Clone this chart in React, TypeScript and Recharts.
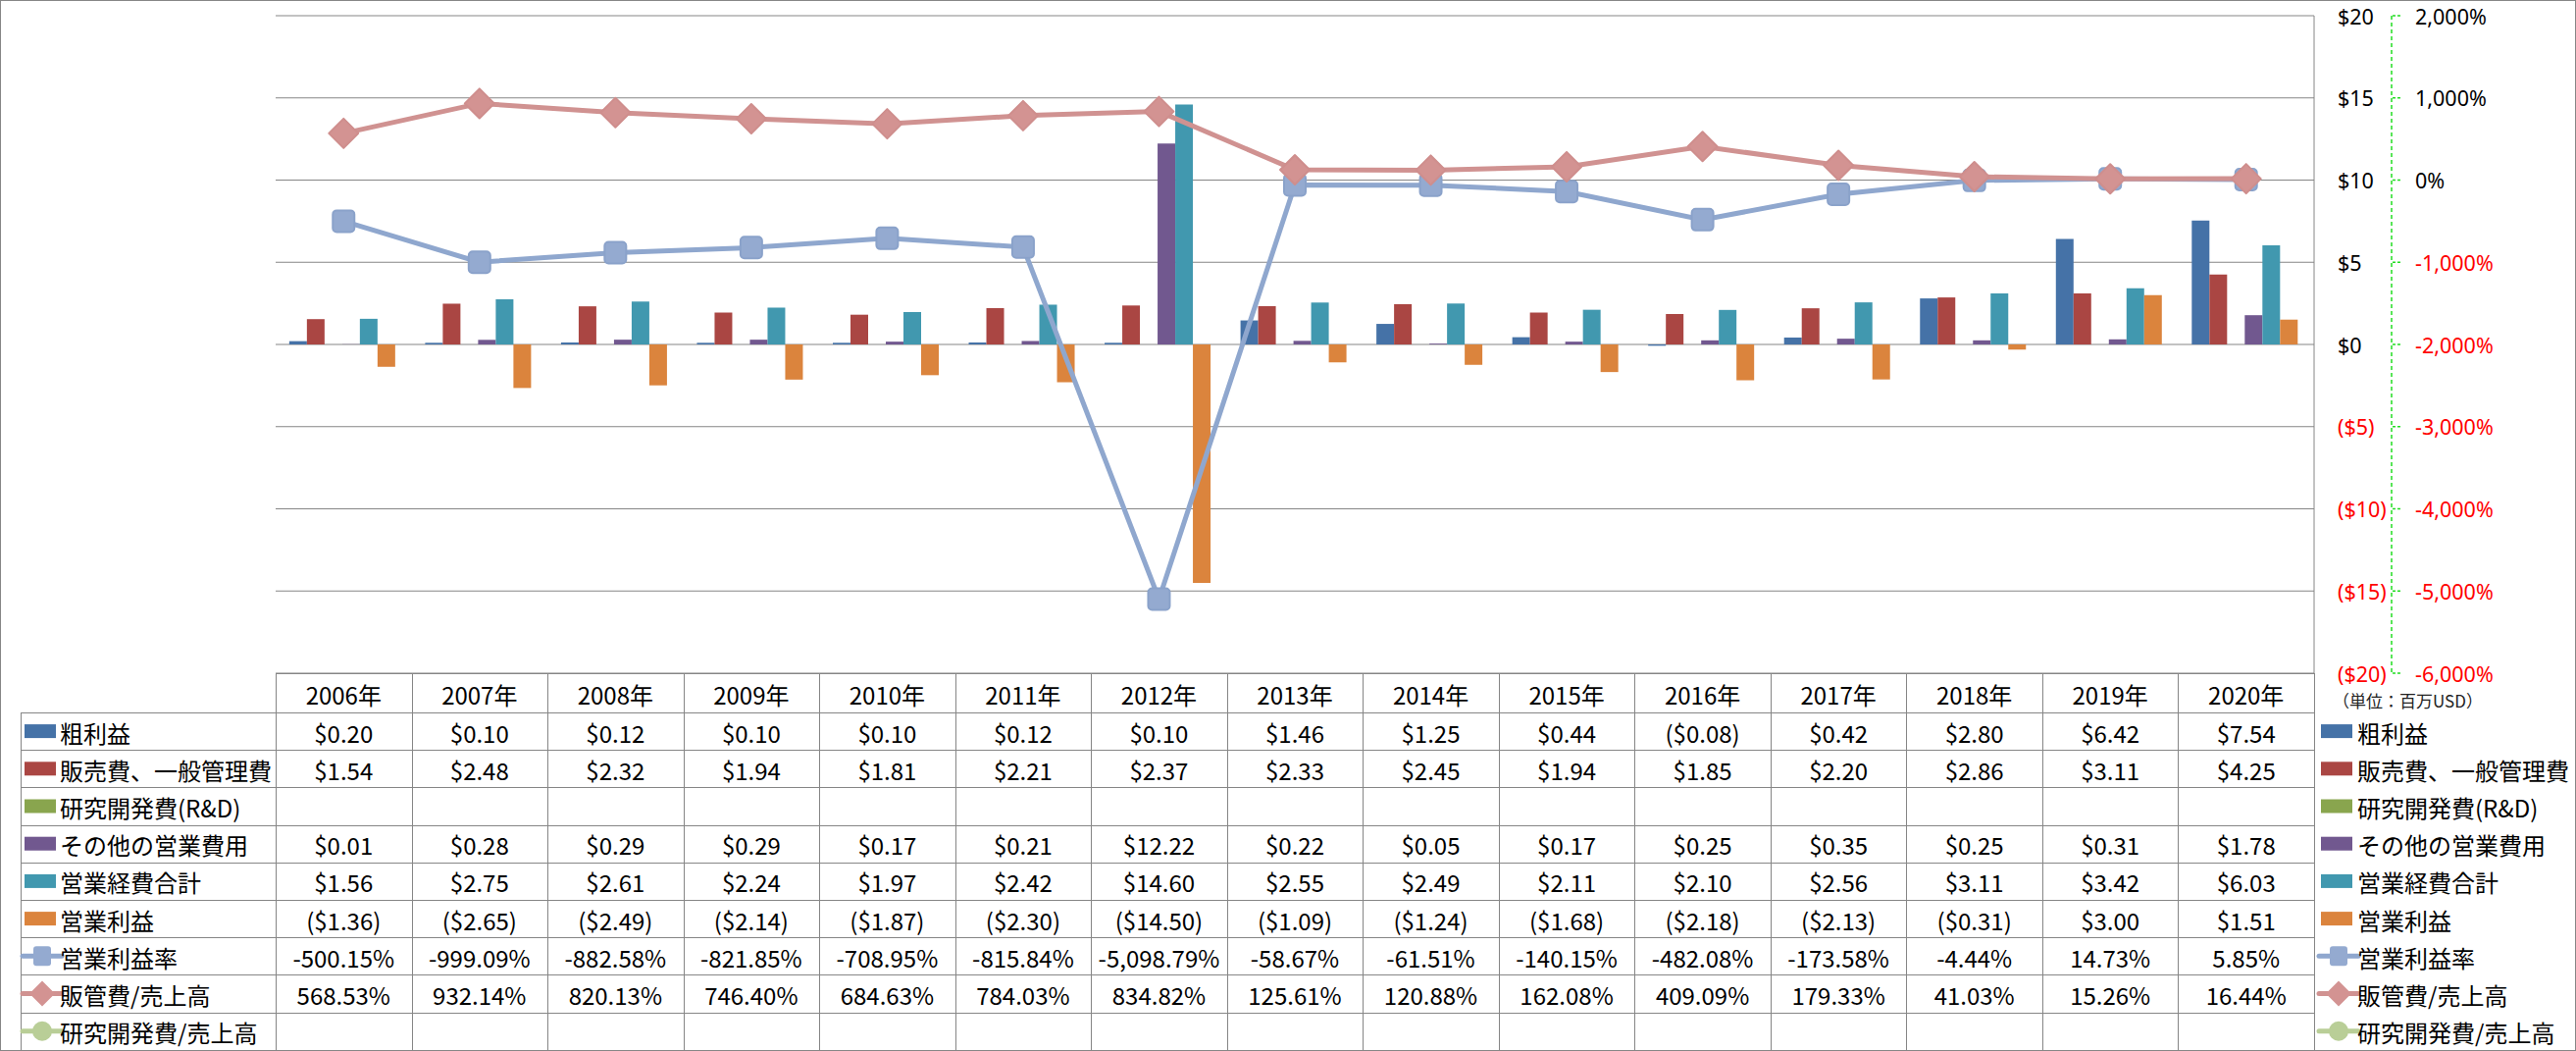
import React from 'react';
import { ComposedChart, Bar, Line, XAxis, YAxis, CartesianGrid } from 'recharts';

// ---------- data ----------
const years = ['2006年', '2007年', '2008年', '2009年', '2010年', '2011年', '2012年', '2013年', '2014年', '2015年', '2016年', '2017年', '2018年', '2019年', '2020年'];
const grossProfit = [0.2, 0.1, 0.12, 0.1, 0.1, 0.12, 0.1, 1.46, 1.25, 0.44, -0.08, 0.42, 2.8, 6.42, 7.54];
const sga = [1.54, 2.48, 2.32, 1.94, 1.81, 2.21, 2.37, 2.33, 2.45, 1.94, 1.85, 2.2, 2.86, 3.11, 4.25];
const rnd: (number | null)[] = [null, null, null, null, null, null, null, null, null, null, null, null, null, null, null];
const otherOpex = [0.01, 0.28, 0.29, 0.29, 0.17, 0.21, 12.22, 0.22, 0.05, 0.17, 0.25, 0.35, 0.25, 0.31, 1.78];
const totalOpex = [1.56, 2.75, 2.61, 2.24, 1.97, 2.42, 14.6, 2.55, 2.49, 2.11, 2.1, 2.56, 3.11, 3.42, 6.03];
const opIncome = [-1.36, -2.65, -2.49, -2.14, -1.87, -2.3, -14.5, -1.09, -1.24, -1.68, -2.18, -2.13, -0.31, 3.0, 1.51];
const opMargin = [-500.15, -999.09, -882.58, -821.85, -708.95, -815.84, -5098.79, -58.67, -61.51, -140.15, -482.08, -173.58, -4.44, 14.73, 5.85];
const sgaRatio = [568.53, 932.14, 820.13, 746.4, 684.63, 784.03, 834.82, 125.61, 120.88, 162.08, 409.09, 179.33, 41.03, 15.26, 16.44];
const rndRatio: (number | null)[] = [null, null, null, null, null, null, null, null, null, null, null, null, null, null, null];

const usdTicks = [20, 15, 10, 5, 0, -5, -10, -15, -20];
const pctTicks = [2000, 1000, 0, -1000, -2000, -3000, -4000, -5000, -6000];
const unitLabel = '（単位：百万USD）';

type Series = { key: string; name: string; values: (number | null)[]; color: string; kind: 'bar' | 'line'; unit: 'usd' | 'pct'; marker?: 'square' | 'diamond' | 'circle' };

const series: Series[] = [
  { key: 'gp', name: '粗利益', values: grossProfit, color: '#4572A7', kind: 'bar', unit: 'usd' },
  { key: 'sga', name: '販売費、一般管理費', values: sga, color: '#AA4643', kind: 'bar', unit: 'usd' },
  { key: 'rnd', name: '研究開発費(R&D)', values: rnd, color: '#89A54E', kind: 'bar', unit: 'usd' },
  { key: 'other', name: 'その他の営業費用', values: otherOpex, color: '#71588F', kind: 'bar', unit: 'usd' },
  { key: 'total', name: '営業経費合計', values: totalOpex, color: '#4198AF', kind: 'bar', unit: 'usd' },
  { key: 'op', name: '営業利益', values: opIncome, color: '#DB843D', kind: 'bar', unit: 'usd' },
  { key: 'opm', name: '営業利益率', values: opMargin, color: '#8FA7CE', kind: 'line', unit: 'pct', marker: 'square' },
  { key: 'sgar', name: '販管費/売上高', values: sgaRatio, color: '#D09291', kind: 'line', unit: 'pct', marker: 'diamond' },
  { key: 'rndr', name: '研究開発費/売上高', values: rndRatio, color: '#B9CE97', kind: 'line', unit: 'pct', marker: 'circle' },
];

const chartData = years.map((y, i) => {
  const row: Record<string, any> = { year: y };
  series.forEach((s) => (row[s.key] = s.values[i]));
  return row;
});

// ---------- layout ----------
const W = 2626;
const H = 1071;
const plotL = 281;
const plotR = 2359;
const plotT = 16;
const plotB = 686;
const headerB = 726;
const rowH = 38.2;
const tableL = 21;
const usdAxisW = 79;
const pctAxisW = 150;
const colW = (plotR - plotL) / years.length;
const FONT = '"Noto Sans CJK JP", "Noto Sans", sans-serif';
const AXFONT = '"Noto Sans", sans-serif';
const GRID = '#868686';
const GREEN = '#22DD22';
const USD_ID = 'a';
const PCT_ID = 'b';

const fmtUsd = (v: number | null) => {
  if (v == null) return '';
  const a = Math.abs(v).toFixed(2);
  return v < 0 ? `($${a})` : `$${a}`;
};
const fmtPct = (v: number | null) => {
  if (v == null) return '';
  return `${v.toLocaleString('en-US', { minimumFractionDigits: 2, maximumFractionDigits: 2 })}%`;
};

const rowCenter = (k: number) => headerB + rowH * (k + 0.5);

const TableColumnTick = (props: any) => {
  const { x, payload } = props;
  const i = years.indexOf(payload.value);
  return (
    <g>
      <text x={x} y={(plotB + headerB) / 2 + 1} textAnchor="middle" dominantBaseline="central" fontFamily={FONT} fontSize={24} fill="#000">
        {payload.value}
      </text>
      {series.map((s, k) => (
        <text key={s.key} x={x} y={rowCenter(k) + 1} textAnchor="middle" dominantBaseline="central" fontFamily={FONT} fontSize={24} fill="#000">
          {s.unit === 'usd' ? fmtUsd(s.values[i]) : fmtPct(s.values[i])}
        </text>
      ))}
    </g>
  );
};

const UsdTick = (props: any) => {
  const { x, y, payload } = props;
  const v = payload.value as number;
  const neg = v < 0;
  return (
    <text x={x} y={y} dominantBaseline="central" textAnchor="start" fontFamily={AXFONT} fontSize={21.5} fill={neg ? '#FF0000' : '#000'}>
      {neg ? `($${-v})` : `$${v}`}
    </text>
  );
};

const PctTick = (props: any) => {
  const { x, y, payload } = props;
  const v = payload.value as number;
  return (
    <text x={x} y={y} dominantBaseline="central" textAnchor="start" fontFamily={AXFONT} fontSize={21.5} fill={v < 0 ? '#FF0000' : '#000'}>
      {`${v.toLocaleString('en-US')}%`}
    </text>
  );
};

const makeDot = (s: Series) => (props: any) => {
  const { cx, cy, index, value } = props;
  const k = `${s.key}-${index}`;
  if (cx == null || cy == null || value == null) return <g key={k} />;
  if (s.marker === 'square')
    return <rect key={k} x={cx - 11} y={cy - 11} width={22} height={22} rx={4} fill="#94AAD0" stroke="#8AA2CA" strokeWidth={2} />;
  if (s.marker === 'diamond')
    return (
      <polygon key={k} points={`${cx},${cy - 15} ${cx + 15},${cy} ${cx},${cy + 15} ${cx - 15},${cy}`} fill="#D39392" stroke="#CF8E8D" strokeWidth={2} strokeLinejoin="round" />
    );
  return <circle key={k} cx={cx} cy={cy} r={10} fill={s.color} />;
};

const LegendIcon = ({ s, x, y }: { s: Series; x: number; y: number }) => {
  if (s.kind === 'bar') return <rect x={x} y={y - 7} width={32} height={14} fill={s.color} />;
  const cx = x + 18;
  let m: React.ReactNode = null;
  if (s.marker === 'square') m = <rect x={cx - 9} y={y - 10} width={18} height={20} rx={3} fill="#94AAD0" />;
  else if (s.marker === 'diamond') m = <polygon points={`${cx},${y - 13} ${cx + 13},${y} ${cx},${y + 13} ${cx - 13},${y}`} fill="#D39392" />;
  else m = <circle cx={cx} cy={y} r={10} fill={s.color} />;
  return (
    <g>
      <line x1={x - 2} y1={y} x2={x + 38} y2={y} stroke={s.color} strokeWidth={5} strokeLinecap="round" />
      {m}
    </g>
  );
};

const Overlay = () => {
  const rowLines = series.map((_, k) => headerB + rowH * k).concat([headerB + rowH * series.length]);
  return (
    <svg width={W} height={H} style={{ position: 'absolute', left: 0, top: 0, pointerEvents: 'none' }}>
      <rect x={0.5} y={0.5} width={W - 1} height={H - 1} fill="none" stroke={GRID} strokeWidth={1} />
      {/* table */}
      <line x1={plotL} y1={plotB + 0.5} x2={plotR} y2={plotB + 0.5} stroke={GRID} strokeWidth={1} />
      {rowLines.map((yy, k) => (
        <line key={k} x1={tableL} y1={Math.round(yy) + 0.5} x2={plotR} y2={Math.round(yy) + 0.5} stroke={GRID} strokeWidth={1} />
      ))}
      <line x1={tableL + 0.5} y1={headerB} x2={tableL + 0.5} y2={H - 1} stroke={GRID} strokeWidth={1} />
      {years.map((_, i) => (
        <line key={i} x1={Math.round(plotL + colW * i) + 0.5} y1={plotB} x2={Math.round(plotL + colW * i) + 0.5} y2={H - 1} stroke={GRID} strokeWidth={1} />
      ))}
      <line x1={plotR + 0.5} y1={plotB} x2={plotR + 0.5} y2={H - 1} stroke={GRID} strokeWidth={1} />
      {/* row labels */}
      {series.map((s, k) => (
        <g key={s.key}>
          <LegendIcon s={s} x={25} y={rowCenter(k)} />
          <text x={61} y={rowCenter(k) + 1} dominantBaseline="central" fontFamily={FONT} fontSize={24} fill="#000">
            {s.name}
          </text>
        </g>
      ))}
      {/* right legend */}
      {series.map((s, k) => (
        <g key={s.key}>
          <LegendIcon s={s} x={2366} y={rowCenter(k)} />
          <text x={2403} y={rowCenter(k) + 1} dominantBaseline="central" fontFamily={FONT} fontSize={24} fill="#000">
            {s.name}
          </text>
        </g>
      ))}
      <text x={2378} y={713} dominantBaseline="central" fontFamily={FONT} fontSize={17} fill="#222">
        {unitLabel}
      </text>
    </svg>
  );
};

export default function App() {
  return (
    <div style={{ position: 'absolute', left: 0, top: 0, width: W, height: H, background: '#fff' }}>
      <ComposedChart
        width={W}
        height={H}
        data={chartData}
        margin={{ top: plotT, left: plotL, right: W - plotR - usdAxisW - pctAxisW, bottom: 0 }}
        barCategoryGap="10%"
        barGap={0}
      >
        <CartesianGrid yAxisId={USD_ID} vertical={false} stroke={GRID} strokeWidth={1} />
        <XAxis dataKey="year" height={H - plotB} interval={0} axisLine={false} tickLine={false} tickSize={0} tickMargin={0} tick={TableColumnTick} />
        <YAxis
          yAxisId={PCT_ID}
          orientation="right"
          width={pctAxisW}
          domain={[-6000, 2000]}
          ticks={pctTicks}
          interval={0}
          allowDataOverflow
          axisLine={{ stroke: GREEN, strokeWidth: 1.5, strokeDasharray: '4 3' }}
          tickLine={{ stroke: GREEN, strokeWidth: 1.5, strokeDasharray: '3 2' }}
          tickSize={9}
          tickMargin={15}
          tick={PctTick}
        />
        <YAxis
          yAxisId={USD_ID}
          orientation="right"
          width={usdAxisW}
          domain={[-20, 20]}
          ticks={usdTicks}
          interval={0}
          allowDataOverflow
          axisLine={{ stroke: GRID, strokeWidth: 1 }}
          tickLine={false}
          tickSize={6}
          tickMargin={18}
          tick={UsdTick}
        />
        {series
          .filter((s) => s.kind === 'bar')
          .map((s) => (
            <Bar key={s.key} dataKey={s.key} name={s.name} yAxisId={USD_ID} fill={s.color} isAnimationActive={false} />
          ))}
        {series
          .filter((s) => s.kind === 'line')
          .map((s) => (
            <Line
              key={s.key}
              dataKey={s.key}
              name={s.name}
              yAxisId={PCT_ID}
              type="linear"
              stroke={s.color}
              strokeWidth={5}
              dot={makeDot(s)}
              activeDot={false}
              isAnimationActive={false}
            />
          ))}
      </ComposedChart>
      <Overlay />
    </div>
  );
}
